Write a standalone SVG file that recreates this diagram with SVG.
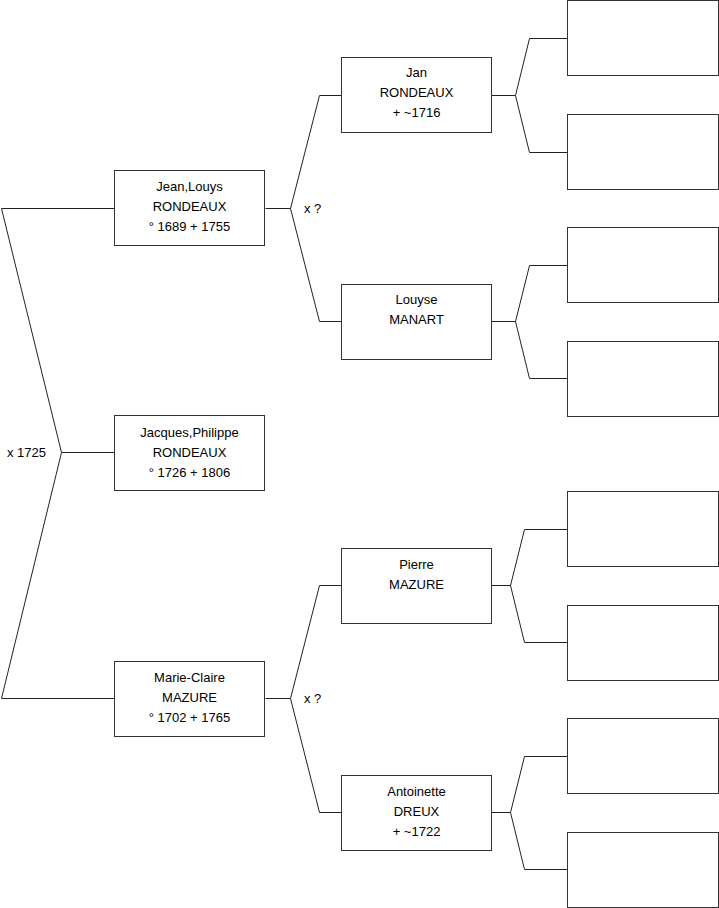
<svg xmlns="http://www.w3.org/2000/svg" width="719" height="908" viewBox="0 0 719 908">
<style>
.box{fill:#fff;stroke:#333;stroke-width:1}
.ln{fill:none;stroke:#222;stroke-width:1}
text{font-family:"Liberation Sans",Arial,sans-serif;font-size:13px;fill:#000}
.c{text-anchor:middle}
</style>
<rect width="719" height="908" fill="#fff"/>
<g id="connectors">
<polyline class="ln" points="114.5,208.5 1.5,208.5 61.5,452.5 1.5,698.5 114.5,698.5"/>
<line class="ln" x1="61.5" y1="452.5" x2="114.5" y2="452.5"/>
<polyline class="ln" points="341.5,95.5 319.5,95.5 290.5,208.5 319.5,321.5 341.5,321.5"/>
<line class="ln" x1="265.5" y1="208.5" x2="290.5" y2="208.5"/>
<polyline class="ln" points="341.5,585.5 319.5,585.5 290.5,698.5 319.5,812.5 341.5,812.5"/>
<line class="ln" x1="265.5" y1="698.5" x2="290.5" y2="698.5"/>
<polyline class="ln" points="567.5,38.5 529.5,38.5 515.5,95.5 529.5,152.5 567.5,152.5"/>
<line class="ln" x1="491.5" y1="95.5" x2="515.5" y2="95.5"/>
<polyline class="ln" points="567.5,265.5 529.5,265.5 515.5,321.5 529.5,378.5 567.5,378.5"/>
<line class="ln" x1="491.5" y1="321.5" x2="515.5" y2="321.5"/>
<polyline class="ln" points="567.5,529.5 524.5,529.5 510.5,585.5 524.5,642.5 567.5,642.5"/>
<line class="ln" x1="491.5" y1="585.5" x2="510.5" y2="585.5"/>
<polyline class="ln" points="567.5,756.5 524.5,756.5 510.5,812.5 524.5,869.5 567.5,869.5"/>
<line class="ln" x1="491.5" y1="812.5" x2="510.5" y2="812.5"/>
<text x="304" y="212.5">x ?</text>
<text x="304" y="702.5">x ?</text>
<text x="7" y="456.5">x 1725</text>
</g>
<g id="n-jeanlouys">
<rect class="box" x="114.5" y="170.5" width="150" height="75"/>
<text class="c" x="189.5" y="191">Jean,Louys</text>
<text class="c" x="189.5" y="211">RONDEAUX</text>
<text class="c" x="189.5" y="231">° 1689 + 1755</text>
</g>
<g id="n-jacques">
<rect class="box" x="114.5" y="415.5" width="150" height="75"/>
<text class="c" x="189.5" y="437">Jacques,Philippe</text>
<text class="c" x="189.5" y="457">RONDEAUX</text>
<text class="c" x="189.5" y="477">° 1726 + 1806</text>
</g>
<g id="n-marieclaire">
<rect class="box" x="114.5" y="661.5" width="150" height="75"/>
<text class="c" x="189.5" y="682">Marie-Claire</text>
<text class="c" x="189.5" y="702">MAZURE</text>
<text class="c" x="189.5" y="722">° 1702 + 1765</text>
</g>
<g id="n-jan">
<rect class="box" x="341.5" y="57.5" width="150" height="75"/>
<text class="c" x="416.5" y="77">Jan</text>
<text class="c" x="416.5" y="97">RONDEAUX</text>
<text class="c" x="416.5" y="117">+ ~1716</text>
</g>
<g id="n-louyse">
<rect class="box" x="341.5" y="284.5" width="150" height="75"/>
<text class="c" x="416.5" y="304">Louyse</text>
<text class="c" x="416.5" y="324">MANART</text>
</g>
<g id="n-pierre">
<rect class="box" x="341.5" y="548.5" width="150" height="75"/>
<text class="c" x="416.5" y="569">Pierre</text>
<text class="c" x="416.5" y="589">MAZURE</text>
</g>
<g id="n-antoinette">
<rect class="box" x="341.5" y="775.5" width="150" height="75"/>
<text class="c" x="416.5" y="796">Antoinette</text>
<text class="c" x="416.5" y="816">DREUX</text>
<text class="c" x="416.5" y="836">+ ~1722</text>
</g>
<g id="n-e1"><rect class="box" x="567.5" y="0.5" width="151" height="75"/></g>
<g id="n-e2"><rect class="box" x="567.5" y="114.5" width="151" height="75"/></g>
<g id="n-e3"><rect class="box" x="567.5" y="227.5" width="151" height="75"/></g>
<g id="n-e4"><rect class="box" x="567.5" y="341.5" width="151" height="75"/></g>
<g id="n-e5"><rect class="box" x="567.5" y="491.5" width="151" height="75"/></g>
<g id="n-e6"><rect class="box" x="567.5" y="605.5" width="151" height="75"/></g>
<g id="n-e7"><rect class="box" x="567.5" y="718.5" width="151" height="75"/></g>
<g id="n-e8"><rect class="box" x="567.5" y="832.5" width="151" height="75"/></g>
</svg>
